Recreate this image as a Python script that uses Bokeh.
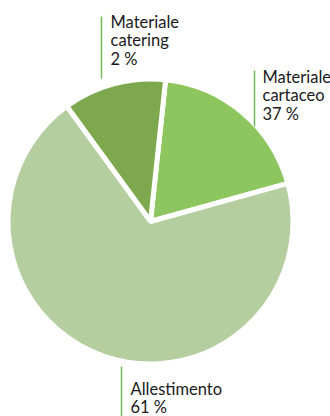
from math import pi
from bokeh.plotting import figure
from bokeh.models import Range1d, ColumnDataSource
from bokeh.core.properties import value
from bokeh.embed import file_html
from bokeh.resources import INLINE

# data
categories = ["Materiale cartaceo", "Materiale catering", "Allestimento"]
label_pct = [37, 2, 61]
slice_share = [19.0, 11.7, 69.3]   # shares of the drawn slices, as they appear
colors = ["#8dc65e", "#7ea84e", "#b5cea0"]

W, H = 330, 416
p = figure(width=W, height=H, output_backend="svg", toolbar_location=None,
           x_range=Range1d(0, W), y_range=Range1d(0, H), min_border=0)
p.axis.visible = False
p.grid.visible = False
p.outline_line_color = None
p.background_fill_color = "white"

cx, cy, r = 150, H - 221, 142.5
start0 = 15.5 * pi / 180
starts, ends = [], []
a = start0
for s in slice_share:
    starts.append(a)
    a += s / 100 * 2 * pi
    ends.append(a)

src = ColumnDataSource(dict(start=starts, end=ends, color=colors))
p.wedge(x=cx, y=cy, radius=r, start_angle="start", end_angle="end",
        fill_color="color", line_color="white", line_width=5, source=src)

# labels
lab_x = [262, 110, 130]
lab_y = [H - 66, H - 11, H - 378]
line_x = [254, 101, 121]
line_y0 = [H - 70, H - 16, H - 366]
line_y1 = [H - 126, H - 78, H - 416]
texts = []
for c, pct in zip(categories, label_pct):
    w = c.split(" ")
    texts.append("\n".join(w) + "\n" + f"{pct} %")

p.segment(x0=line_x, y0=line_y0, x1=line_x, y1=line_y1,
          line_color="#72b653", line_width=1.5)
p.text(x=lab_x, y=lab_y, text=texts, text_font=value("Lato"),
       text_font_size="16.5px", text_color="#1a1a1a", text_baseline="top",
       text_line_height=0.93)

open("out.html", "w").write(file_html(p, INLINE))
